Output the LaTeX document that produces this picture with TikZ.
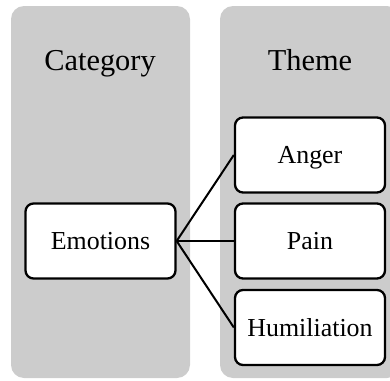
\documentclass[tikz,border=0pt]{standalone}
\usepackage{fontspec}
\setmainfont{Liberation Serif}
\definecolor{colgray}{HTML}{CCCCCC}
\tikzset{column/.style={fill=colgray,rounded corners=13bp},
         head/.style={font=\fontsize{30.5}{36}\selectfont,text height=20bp,text depth=0pt,inner sep=0pt},
         item/.style={draw=black,fill=white,line width=2.3bp,rounded corners=8bp,
                      minimum width=150bp,minimum height=75bp,inner sep=0pt,
                      font=\fontsize{26}{31}\selectfont,text height=17bp,text depth=0pt}}
\begin{document}
\begin{tikzpicture}[x=1bp,y=-1bp]
                \useasboundingbox (0,0) rectangle (390,381);
                \fill[column] (11,6) rectangle (190,378);
                \fill[column] (220,6) rectangle (400,378);
                    \node[head] (category) at (100,60) {Category};
                    \node[head] (theme) at (310,60) {Theme};
                    \node[item] (emotions) at (100.5,241) {Emotions};
                    \node[item] (anger) at (310,155) {Anger};
                    \node[item] (pain) at (310,241) {Pain};
                    \node[item] (humiliation) at (310,327.5) {Humiliation};
                % links
                \foreach \t in {anger,pain,humiliation}
                    \draw[line width=2bp] (emotions.east)--(\t.west);
                \end{tikzpicture}
\end{document}
